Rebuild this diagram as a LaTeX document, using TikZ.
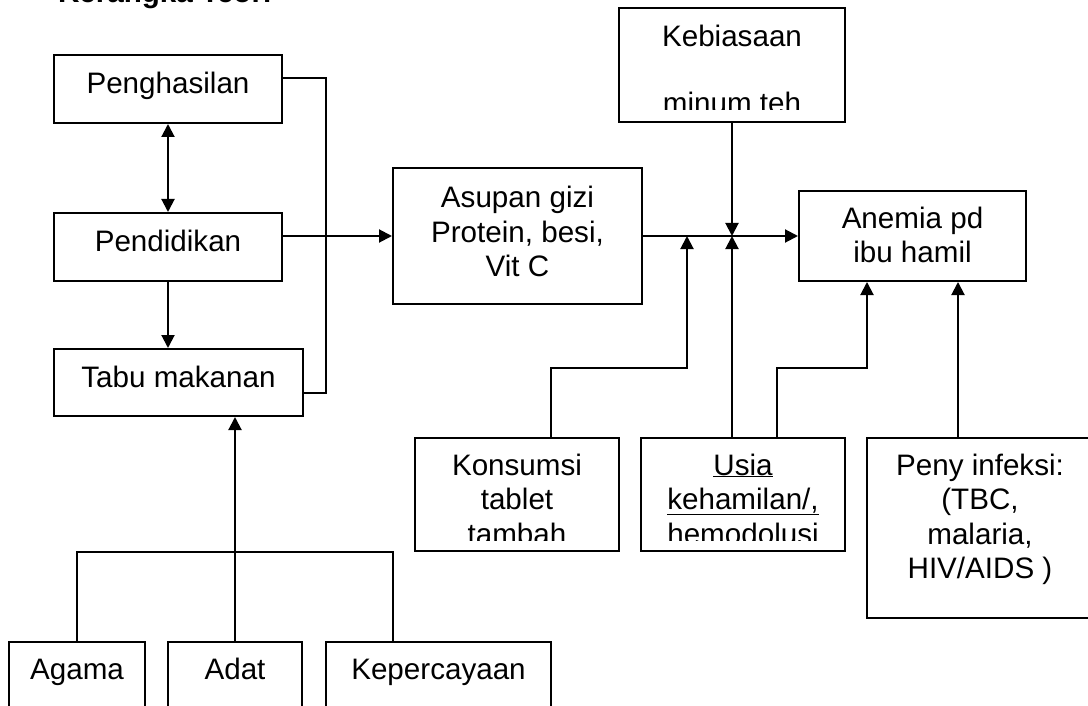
\documentclass[tikz,border=0pt]{standalone}
\usepackage{fontspec}
\setmainfont{Liberation Sans}
\usetikzlibrary{arrows.meta}
\tikzstyle{arrow} = [line width=2pt,->,>={Triangle[length=13pt,width=13pt]}]
\tikzstyle{garis} = [line width=2pt]

\begin{document}
\begin{tikzpicture}[x=1pt,y=-1pt,line width=2pt,
    every node/.style={font=\fontsize{29.6}{34.5}\selectfont},
    box/.style={draw,rectangle,inner sep=0pt,line width=2pt},
    one line/.style={box,text height=21pt,text depth=12pt}]
    \useasboundingbox (0,0) rectangle (1088,706);
    \clip (0,0) rectangle (1088,706);
    \node[anchor=base west,inner sep=0pt,font=\bfseries\fontsize{29.6}{34.5}\selectfont] (judul) at (57,3) {Kerangka Teori};
    % left column
    \node[one line,minimum width=228pt,minimum height=68pt] (penghasilan) at (168,89) {Penghasilan};
    \node[one line,minimum width=228pt,minimum height=68pt] (pendidikan) at (168,247) {Pendidikan};
    \node[one line,minimum width=249pt,minimum height=67pt] (tabu) at (178.5,382.5) {Tabu makanan};
    \node[one line,minimum width=136pt,minimum height=66pt] (agama) at (77,675) {Agama};
    \node[one line,minimum width=134pt,minimum height=66pt] (adat) at (235,675) {Adat};
    \node[one line,minimum width=225pt,minimum height=66pt] (kepercayaan) at (438.5,675) {Kepercayaan};
    % middle and right
    \node[box,align=center,minimum width=249pt,minimum height=136pt,text height=90pt,text depth=9pt] (asupan) at (517.5,236) {Asupan gizi\\Protein, besi,\\Vit C};
    \node[box,align=center,minimum width=227pt,minimum height=90pt,text height=55.5pt,text depth=2.5pt] (anemia) at (912.5,236) {Anemia pd\\ibu hamil};
    \node[box,align=center,minimum width=226pt,minimum height=180pt,text height=124.5pt,text depth=23.5pt] (peny) at (980,528) {Peny infeksi:\\(TBC,\\malaria,\\HIV/AIDS )};
    \node[box,minimum width=226pt,minimum height=114pt] (kebiasaan) at (732,65) {};
    \node[box,minimum width=204pt,minimum height=113pt] (konsumsi) at (517,494.5) {};
    \node[box,minimum width=204pt,minimum height=113pt] (usia) at (743,494.5) {};
    % texts cut off at the bottom of their boxes
    \begin{scope}
        \clip (619,8) rectangle (845,110);
        \node[align=center,inner sep=0pt,text height=88pt,text depth=0pt,font=\fontsize{29.6}{67}\selectfont] (kebiasaan teks) at (732,70) {Kebiasaan\\minum teh};
    \end{scope}
    \begin{scope}
        \clip (415,438) rectangle (619,540);
        \node[align=center,inner sep=0pt,text height=90pt,text depth=0pt] (konsumsi teks) at (517,499) {Konsumsi\\tablet\\tambah};
    \end{scope}
    \begin{scope}
        \clip (641,438) rectangle (845,540);
        \node[align=center,inner sep=0pt,text height=90pt,text depth=0pt] (usia teks) at (743,499) {\underline{Usia}\\\underline{kehamilan/,}\\hemodolusi};
    \end{scope}
    % connectors
    \coordinate (siku) at (326,393);
    \coordinate (cabang) at (235,552);
    \coordinate (kepercayaan atas) at ([xshift=-45.5pt]kepercayaan.north);
    \coordinate (masuk gizi) at (687,236);
    \coordinate (masuk anemia) at (732,236);
    \draw[arrow,<->] (penghasilan.south) -- (pendidikan.north);
    \draw[arrow] (pendidikan.south) -- (tabu.north -| pendidikan.south);
    \draw[garis] ([yshift=11pt]penghasilan.east) -| (siku) -- ([yshift=-10.5pt]tabu.east);
    \draw[arrow] (pendidikan.east |- asupan.west) -- (asupan.west);
    \draw[arrow] (adat.north) -- (tabu.south -| adat.north);
    \draw[garis] (agama.north) |- (cabang) -| (kepercayaan atas);
    \draw[arrow] (asupan.east) -- (anemia.west |- asupan.east);
    \draw[arrow] (kebiasaan.south) -- (masuk anemia);
    \draw[arrow] ([xshift=-11pt]usia.north) -- (masuk anemia);
    \draw[arrow] ([xshift=34pt]konsumsi.north) -- ++(0,-69) -| (masuk gizi);
    \draw[arrow] ([xshift=34pt]usia.north) -- ++(0,-69) -| ([xshift=-45.5pt]anemia.south);
    \draw[arrow] ([xshift=-22pt]peny.north) -- ([xshift=45.5pt]anemia.south);
\end{tikzpicture}
\end{document}
